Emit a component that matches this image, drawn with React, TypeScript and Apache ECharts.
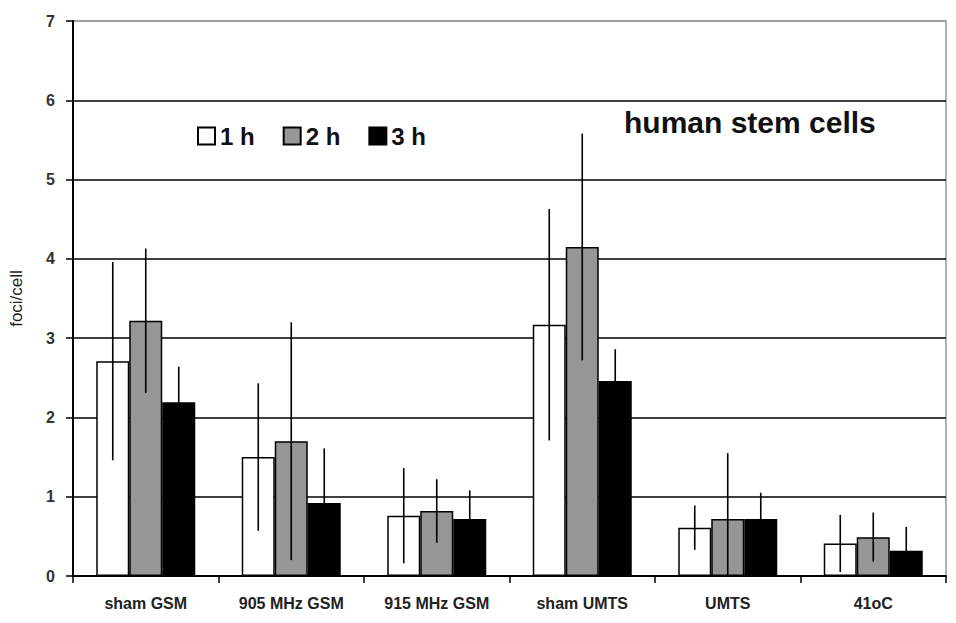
import React, { useEffect, useRef } from "react";
import * as echarts from "echarts";

const categories = ["sham GSM", "905 MHz GSM", "915 MHz GSM", "sham UMTS", "UMTS", "41oC"];
const seriesNames = ["1 h", "2 h", "3 h"];
const values1h = [2.71, 1.5, 0.76, 3.17, 0.61, 0.41];
const errors1h = [1.25, 0.93, 0.6, 1.46, 0.28, 0.36];
const values2h = [3.22, 1.7, 0.82, 4.15, 0.72, 0.49];
const errors2h = [0.91, 1.5, 0.4, 1.43, 0.83, 0.31];
const values3h = [2.19, 0.92, 0.72, 2.46, 0.72, 0.32];
const errors3h = [0.45, 0.69, 0.36, 0.4, 0.33, 0.3];
const yTicks = [0, 1, 2, 3, 4, 5, 6, 7];

const BAR_W = 33;

export default function App() {
  const ref = useRef<HTMLDivElement>(null);
  useEffect(() => {
    if (!ref.current) return;
    const chart = echarts.init(ref.current, undefined, { renderer: "svg" });
    const values = [values1h, values2h, values3h];
    const errors = [errors1h, errors2h, errors3h];
    const colors = ["#ffffff", "#969696", "#000000"];

    const barSeries = seriesNames.map((name, i) => ({
      name,
      type: "bar",
      data: values[i],
      barWidth: BAR_W,
      barGap: "0%",
      barCategoryGap: "32%",
      itemStyle: { color: colors[i], borderColor: "#000", borderWidth: 1.5 },
      z: 2,
    }));

    const errSeries = seriesNames.map((name, i) => ({
      name: name + " err",
      type: "custom",
      z: 5,
      data: values[i].map((v, j) => [j, v, errors[i][j]]),
      renderItem: (params: any, api: any) => {
        const idx = api.value(0);
        const v = api.value(1);
        const e = api.value(2);
        const top = api.coord([idx, v + e]);
        const bot = api.coord([idx, Math.max(0, v - e)]);
        const x = top[0] + (i - 1) * BAR_W;
        return {
          type: "line",
          shape: { x1: x, y1: top[1], x2: x, y2: bot[1] },
          style: { stroke: "#000", lineWidth: 1.6 },
        };
      },
    }));

    const font = "Liberation Sans, Arial, sans-serif";

    chart.setOption({
      animation: false,
      backgroundColor: "#fff",
      grid: {
        left: 70,
        right: 10,
        top: 21,
        bottom: 47,
        show: true,
        borderColor: "#999",
        borderWidth: 1.5,
      },
      legend: {
        data: seriesNames,
        left: 192,
        top: 119,
        itemWidth: 17,
        itemHeight: 17,
        itemGap: 28,
        icon: "rect",
        textStyle: { fontSize: 24, fontWeight: "bold", color: "#111", fontFamily: font },
      },
      graphic: [
        {
          type: "text",
          left: 624,
          top: 107,
          style: {
            text: "human stem cells",
            fontSize: 30,
            fontWeight: "bold",
            fill: "#111",
            fontFamily: font,
          },
        },
      ],
      xAxis: {
        type: "category",
        data: categories,
        axisLine: { lineStyle: { color: "#000", width: 2 } },
        axisTick: { show: true, length: 7, lineStyle: { color: "#000", width: 1.5 } },
        axisLabel: {
          margin: 19,
          fontSize: 16,
          fontWeight: "bold",
          color: "#222",
          fontFamily: font,
        },
      },
      yAxis: {
        type: "value",
        min: yTicks[0],
        max: yTicks[yTicks.length - 1],
        interval: 1,
        name: "foci/cell",
        nameLocation: "middle",
        nameRotate: 90,
        nameGap: 48,
        nameTextStyle: { fontSize: 17, color: "#222", fontFamily: font },
        axisLine: { show: true, lineStyle: { color: "#000", width: 2 } },
        axisTick: { show: true, length: 7, lineStyle: { color: "#000", width: 1.5 } },
        axisLabel: {
          margin: 18,
          fontSize: 16,
          fontWeight: "bold",
          color: "#333",
          fontFamily: font,
        },
        splitLine: {
          show: true,
          lineStyle: {
            color: ["#000", "#000", "#000", "#000", "#000", "#000", "#000", "#999"],
            width: 1.5,
          },
        },
      },
      series: [...barSeries, ...errSeries],
    });
    return () => chart.dispose();
  }, []);
  return <div ref={ref} style={{ width: 956, height: 623, position: "absolute", left: 0, top: 0 }} />;
}
